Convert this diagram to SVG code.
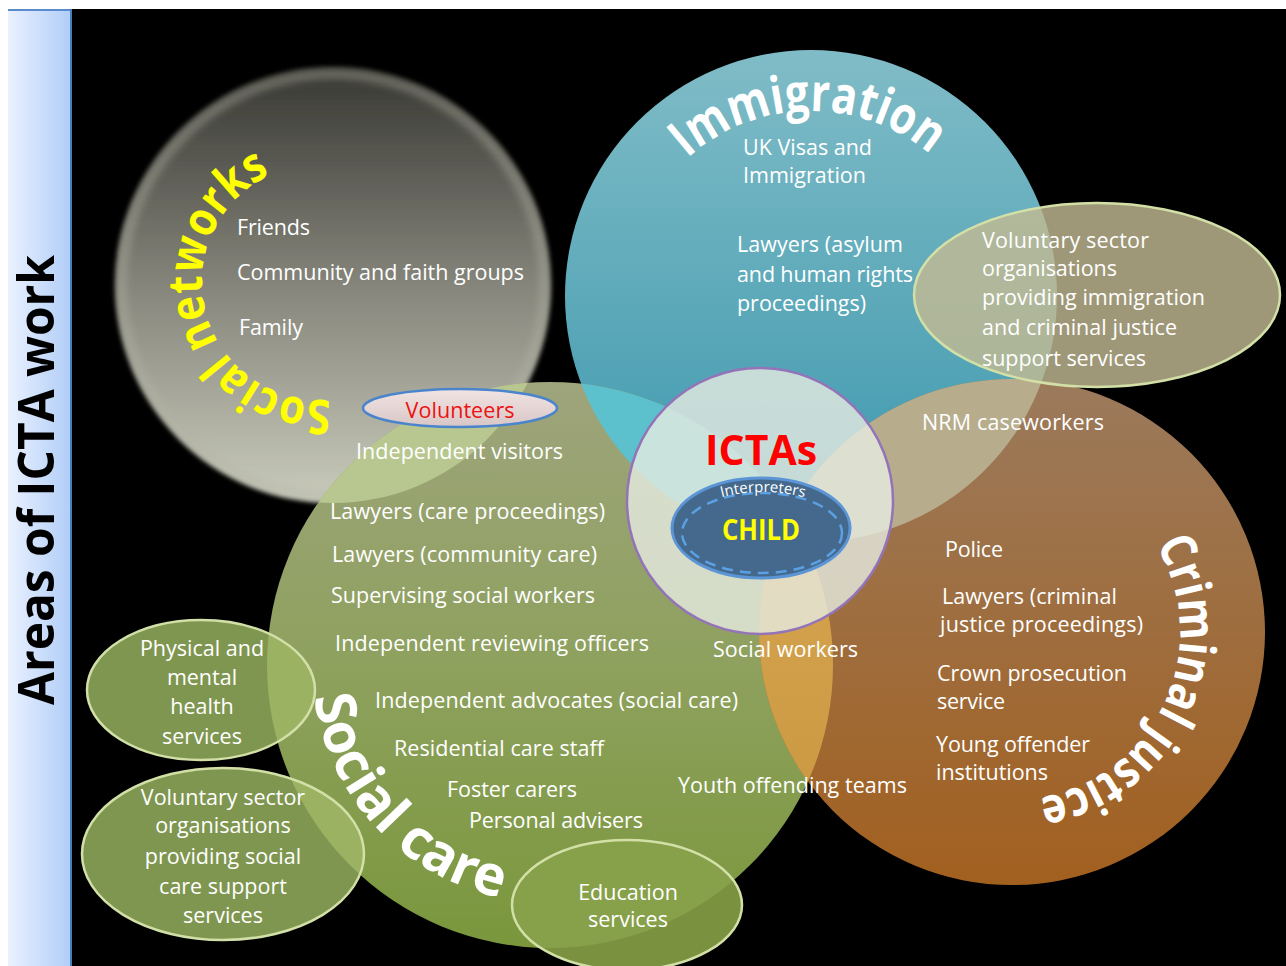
<svg xmlns="http://www.w3.org/2000/svg" width="1286" height="966" viewBox="0 0 1286 966">
<defs>
<style>
.t{font-family:"Open Sans","Liberation Sans",sans-serif;font-size:21.5px;fill:#ffffff}
.c{text-anchor:middle}
.h{font-family:"Open Sans","Liberation Sans",sans-serif;font-weight:700;fill:#ffffff}
.ell{stroke:#d2e0a8;stroke-width:2.5}
</style>
<linearGradient id="gBar" x1="0" y1="0" x2="1" y2="0"><stop offset="0" stop-color="#eaf1ff"/><stop offset="1" stop-color="#b0cdf7"/></linearGradient>
<linearGradient id="gGray" x1="0" y1="0" x2="0" y2="1"><stop offset="0" stop-color="#383833"/><stop offset="0.5" stop-color="#85857b"/><stop offset="1" stop-color="#c9cbbb"/></linearGradient>
<linearGradient id="gTeal" x1="0" y1="0" x2="0" y2="1"><stop offset="0" stop-color="#80bcc7"/><stop offset="1" stop-color="#3b97ad"/></linearGradient>
<linearGradient id="gGreen" x1="0" y1="0" x2="0" y2="1"><stop offset="0" stop-color="#9ea47c"/><stop offset="0.5" stop-color="#8ea15e"/><stop offset="1" stop-color="#7a973c"/></linearGradient>
<linearGradient id="gOrange" x1="0" y1="0" x2="0" y2="1"><stop offset="0" stop-color="#9b7a5c"/><stop offset="1" stop-color="#a2601f"/></linearGradient>
<linearGradient id="gGold" x1="0" y1="0" x2="0" y2="1"><stop offset="0" stop-color="#dcaa55"/><stop offset="1" stop-color="#c8963f"/></linearGradient>
<linearGradient id="gVol" x1="0" y1="0" x2="0" y2="1"><stop offset="0" stop-color="#f2e4e4"/><stop offset="1" stop-color="#d8c6c6"/></linearGradient>
<clipPath id="cTeal"><circle cx="811" cy="296" r="246"/></clipPath>
<clipPath id="cGreen"><circle cx="550" cy="665" r="283"/></clipPath>
<filter id="soft" x="-5%" y="-5%" width="110%" height="110%"><feGaussianBlur stdDeviation="2"/></filter>
<filter id="glow" x="-10%" y="-10%" width="120%" height="120%"><feGaussianBlur stdDeviation="4"/></filter>
<path id="pImm" d="M 626,296 A 185 185 0 0 1 996,296"/>
<path id="pSN" d="M 340.5,398.2 A 118 118 0 0 1 289.5,168"/>
<path id="pCJ" d="M 1140.7,524 A 168 168 0 0 1 982.8,797.4"/>
<path id="pSC" d="M 312,665 A 238 238 0 0 0 550,903"/>
<path id="pInt" d="M 712,500 Q 763,484 814,500"/>
</defs>

<rect x="0" y="0" width="1286" height="966" fill="#ffffff"/>
<rect x="72" y="9" width="1214" height="957" fill="#000000"/>

<g id="sidebar">
<rect x="8" y="9" width="63" height="957" fill="url(#gBar)"/>
<line x1="8" y1="10" x2="72" y2="10" stroke="#5a8ccc" stroke-width="2"/>
<line x1="71" y1="9" x2="71" y2="966" stroke="#4a7cbe" stroke-width="2"/>
<text transform="translate(54,480) rotate(-90)" text-anchor="middle" font-family="'Open Sans','Liberation Sans',sans-serif" font-weight="700" font-size="50" fill="#000" textLength="450" lengthAdjust="spacingAndGlyphs">Areas of ICTA work</text>
</g>

<g id="circles">
<g id="social-networks-circle">
<circle cx="333" cy="285" r="218" fill="url(#gGray)" filter="url(#soft)"/>
<circle cx="333" cy="285" r="211" fill="none" stroke="#b4b4a6" stroke-width="7" opacity="0.55" filter="url(#glow)"/>
</g>
<circle id="immigration-circle" cx="811" cy="296" r="246" fill="url(#gTeal)"/>
<circle id="social-care-circle" cx="550" cy="665" r="283" fill="url(#gGreen)"/>
<circle id="criminal-justice-circle" cx="1012" cy="632" r="253" fill="url(#gOrange)"/>
<g id="overlaps">
<circle cx="550" cy="665" r="283" fill="#5cc1cc" clip-path="url(#cTeal)"/>
<circle cx="1012" cy="632" r="253" fill="#b7ad8d" clip-path="url(#cTeal)"/>
<circle cx="1012" cy="632" r="253" fill="url(#gGold)" clip-path="url(#cGreen)"/>
<circle cx="333" cy="285" r="218" fill="#b7c78f" clip-path="url(#cGreen)"/>
</g>
</g>

<g id="connectors"></g>

<g id="social-networks">
<text class="h" font-size="48" fill="#ffff00" style="fill:#ffff00"><textPath href="#pSN" startOffset="10" textLength="330" lengthAdjust="spacingAndGlyphs">Social networks</textPath></text>
<text class="t" x="237" y="235" textLength="73">Friends</text>
<text class="t" x="237" y="280" textLength="287">Community and faith groups</text>
<text class="t" x="239" y="335" textLength="64">Family</text>
</g>

<g id="immigration">
<text class="h" font-size="52"><textPath href="#pImm" startOffset="155" textLength="265" lengthAdjust="spacingAndGlyphs">Immigration</textPath></text>
<text class="t" x="743" y="155" textLength="129">UK Visas and</text>
<text class="t" x="743" y="183" textLength="123">Immigration</text>
<text class="t" x="737" y="252" textLength="166">Lawyers (asylum</text>
<text class="t" x="737" y="282" textLength="176">and human rights</text>
<text class="t" x="737" y="311" textLength="129">proceedings)</text>
</g>

<g id="voluntary-immigration">
<ellipse cx="1097" cy="295" rx="183" ry="92" fill="#c2ba92" fill-opacity="0.82" class="ell"/>
<text class="t" x="982" y="248" textLength="167">Voluntary sector</text>
<text class="t" x="982" y="276" textLength="135">organisations</text>
<text class="t" x="982" y="305" textLength="223">providing immigration</text>
<text class="t" x="982" y="335" textLength="195">and criminal justice</text>
<text class="t" x="982" y="366" textLength="164">support services</text>
</g>

<g id="criminal-justice">
<text class="h" font-size="50"><textPath href="#pCJ" startOffset="26" textLength="328" lengthAdjust="spacingAndGlyphs">Criminal justice</textPath></text>
<text class="t" x="922" y="430" textLength="182">NRM caseworkers</text>
<text class="t" x="945" y="557" textLength="58">Police</text>
<text class="t" x="942" y="604" textLength="175">Lawyers (criminal</text>
<text class="t" x="940" y="632" textLength="203">justice proceedings)</text>
<text class="t" x="937" y="681" textLength="190">Crown prosecution</text>
<text class="t" x="937" y="709" textLength="68">service</text>
<text class="t" x="936" y="752" textLength="154">Young offender</text>
<text class="t" x="936" y="780" textLength="112">institutions</text>
</g>

<g id="social-care">
<text class="h" font-size="56"><textPath href="#pSC" startOffset="32" textLength="292" lengthAdjust="spacingAndGlyphs">Social care</textPath></text>
<text class="t" x="356" y="459" textLength="207">Independent visitors</text>
<text class="t" x="330" y="519" textLength="275">Lawyers (care proceedings)</text>
<text class="t" x="332" y="562" textLength="265">Lawyers (community care)</text>
<text class="t" x="331" y="603" textLength="264">Supervising social workers</text>
<text class="t" x="335" y="651" textLength="314">Independent reviewing officers</text>
<text class="t" x="713" y="657" textLength="145">Social workers</text>
<text class="t" x="375" y="708" textLength="363">Independent advocates (social care)</text>
<text class="t" x="394" y="756" textLength="210">Residential care staff</text>
<text class="t" x="447" y="797" textLength="130">Foster carers</text>
<text class="t" x="678" y="793" textLength="229">Youth offending teams</text>
<text class="t" x="469" y="828" textLength="174">Personal advisers</text>
</g>

<g id="health-services">
<ellipse cx="201" cy="690" rx="114" ry="70" fill="#7f9650"/>
<ellipse cx="201" cy="690" rx="114" ry="70" fill="#9bb263" clip-path="url(#cGreen)"/>
<ellipse cx="201" cy="690" rx="114" ry="70" fill="none" class="ell"/>
<text class="t c" x="202" y="656">Physical and</text>
<text class="t c" x="202" y="685">mental</text>
<text class="t c" x="202" y="714">health</text>
<text class="t c" x="202" y="744">services</text>
</g>

<g id="voluntary-social-care">
<ellipse cx="223" cy="854" rx="141" ry="86" fill="#7f9650"/>
<ellipse cx="223" cy="854" rx="141" ry="86" fill="#9bb263" clip-path="url(#cGreen)"/>
<ellipse cx="223" cy="854" rx="141" ry="86" fill="none" class="ell"/>
<text class="t c" x="223" y="805">Voluntary sector</text>
<text class="t c" x="223" y="833">organisations</text>
<text class="t c" x="223" y="864">providing social</text>
<text class="t c" x="223" y="894">care support</text>
<text class="t c" x="223" y="923">services</text>
</g>

<g id="education-services">
<ellipse cx="627" cy="905" rx="115" ry="65" fill="#7a9140"/>
<ellipse cx="627" cy="905" rx="115" ry="65" fill="#87a04a" clip-path="url(#cGreen)"/>
<ellipse cx="627" cy="905" rx="115" ry="65" fill="none" class="ell"/>
<text class="t c" x="628" y="900">Education</text>
<text class="t c" x="628" y="927">services</text>
</g>

<g id="volunteers">
<ellipse cx="460" cy="408" rx="97" ry="19" fill="url(#gVol)" stroke="#4a84cc" stroke-width="2.5"/>
<text class="t c" x="460" y="418" style="fill:#ee1111" textLength="109">Volunteers</text>
</g>

<g id="ictas">
<circle cx="760" cy="501" r="133" fill="#e6ebe1" fill-opacity="0.8" stroke="#9474b8" stroke-width="2.5"/>
<text class="h c" x="761" y="465" font-size="42" style="fill:#ff0000" textLength="112" lengthAdjust="spacingAndGlyphs">ICTAs</text>
</g>

<g id="child">
<ellipse cx="761" cy="528" rx="89" ry="50" fill="#44698d" stroke="#5b95d6" stroke-width="3"/>
<ellipse cx="762" cy="533" rx="80" ry="40" fill="none" stroke="#5aa0e2" stroke-width="2.5" stroke-dasharray="11 7"/>
<text class="t" font-size="15" style="font-size:15px" text-anchor="middle"><textPath href="#pInt" startOffset="50%">Interpreters</textPath></text>
<text class="h c" x="761" y="540" font-size="28" style="fill:#ffff00" textLength="78" lengthAdjust="spacingAndGlyphs">CHILD</text>
</g>
</svg>
